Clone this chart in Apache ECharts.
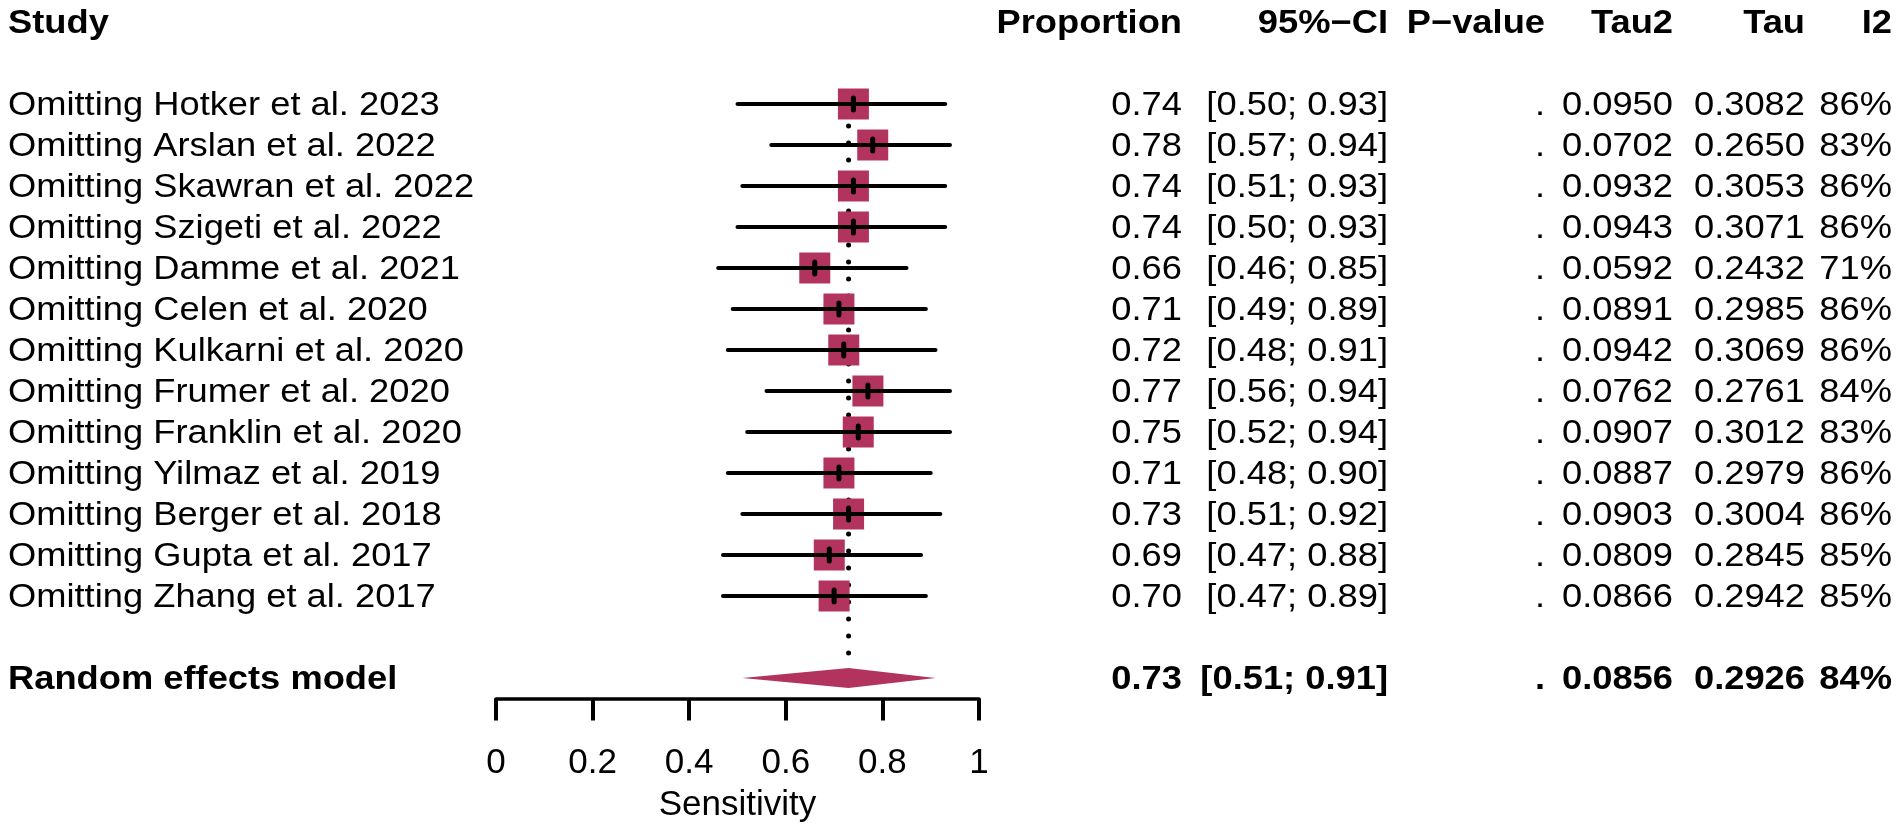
<!DOCTYPE html>
<html>
<head>
<meta charset="utf-8" />
<title>Leave-one-out sensitivity</title>
<script src="https://cdn.jsdelivr.net/npm/echarts@6/dist/echarts.min.js"></script>
<style>body{margin:0;background:#fff;}</style>
</head>
<body>
<div id="chartmain" style="width:1902px;height:834px;"></div>
<script type="text/javascript">

var studies = ['Omitting Hotker et al. 2023', 'Omitting Arslan et al. 2022', 'Omitting Skawran et al. 2022',
  'Omitting Szigeti et al. 2022', 'Omitting Damme et al. 2021', 'Omitting Celen et al. 2020',
  'Omitting Kulkarni et al. 2020', 'Omitting Frumer et al. 2020', 'Omitting Franklin et al. 2020',
  'Omitting Yilmaz et al. 2019', 'Omitting Berger et al. 2018', 'Omitting Gupta et al. 2017',
  'Omitting Zhang et al. 2017'];
var props = [0.74, 0.78, 0.74, 0.74, 0.66, 0.71, 0.72, 0.77, 0.75, 0.71, 0.73, 0.69, 0.70];
var lower = [0.50, 0.57, 0.51, 0.50, 0.46, 0.49, 0.48, 0.56, 0.52, 0.48, 0.51, 0.47, 0.47];
var upper = [0.93, 0.94, 0.93, 0.93, 0.85, 0.89, 0.91, 0.94, 0.94, 0.90, 0.92, 0.88, 0.89];
var tau2 = [0.0950, 0.0702, 0.0932, 0.0943, 0.0592, 0.0891, 0.0942, 0.0762, 0.0907, 0.0887, 0.0903, 0.0809, 0.0866];
var tau = [0.3082, 0.2650, 0.3053, 0.3071, 0.2432, 0.2985, 0.3069, 0.2761, 0.3012, 0.2979, 0.3004, 0.2845, 0.2942];
var i2 = [86, 83, 86, 86, 71, 86, 86, 84, 83, 86, 86, 85, 85];

var pooledName = 'Random effects model';
var pooledEst = 0.73, pooledLo = 0.51, pooledHi = 0.91;
var pooledTau2 = 0.0856, pooledTau = 0.2926, pooledI2 = 84;

var headers = ['Study', 'Proportion', '95%\u2212CI', 'P\u2212value', 'Tau2', 'Tau', 'I2'];
var tickLabels = ['0', '0.2', '0.4', '0.6', '0.8', '1'];

var MAROON = '#B3335F';
var FONT = '"Liberation Sans", Arial, Helvetica, sans-serif';
var HEADER_ROW = -2, POOLED_ROW = studies.length + 1;

// column anchors (pixels)
var cols = [
  {x: 8, align: 'left'}, {x: 1182, align: 'right'}, {x: 1388, align: 'right'},
  {x: 1545, align: 'right'}, {x: 1673, align: 'right'}, {x: 1805, align: 'right'}, {x: 1892, align: 'right'}
];

function ci(lo, hi) { return '[' + lo.toFixed(2) + '; ' + hi.toFixed(2) + ']'; }

// rows of the text table
var tableRows = [{row: HEADER_ROW, bold: true, cells: headers}];
studies.forEach(function (s, i) {
  tableRows.push({row: i, bold: false, cells: [s, props[i].toFixed(2), ci(lower[i], upper[i]), '.',
    tau2[i].toFixed(4), tau[i].toFixed(4), i2[i] + '%']});
});
tableRows.push({row: POOLED_ROW, bold: true, cells: [pooledName, pooledEst.toFixed(2), ci(pooledLo, pooledHi), '.',
  pooledTau2.toFixed(4), pooledTau.toFixed(4), pooledI2 + '%']});

function renderText(params, api) {
  var r = tableRows[params.dataIndex];
  var y = api.coord([0, r.row])[1] + 2;
  return {
    type: 'group',
    children: r.cells.map(function (t, c) {
      return {
        type: 'text', x: cols[c].x, y: y, scaleX: 1.1,
        style: {text: t, fill: '#000', fontSize: 33, fontFamily: FONT,
          fontWeight: r.bold ? 'bold' : 'normal', align: cols[c].align, verticalAlign: 'middle'}
      };
    })
  };
}

function renderStudy(params, api) {
  var row = api.value(3);
  var pE = api.coord([api.value(0), row]);
  var pL = api.coord([api.value(1), row]);
  var pH = api.coord([api.value(2), row]);
  var half = 15.5;
  return {
    type: 'group',
    children: [
      {type: 'rect', shape: {x: pE[0] - half, y: pE[1] - half, width: 2 * half, height: 2 * half}, style: {fill: MAROON}},
      {type: 'line', shape: {x1: pL[0], y1: pL[1], x2: pH[0], y2: pH[1]}, style: {stroke: '#000', lineWidth: 4, lineCap: 'round'}},
      {type: 'line', shape: {x1: pE[0], y1: pE[1] - 6, x2: pE[0], y2: pE[1] + 6}, style: {stroke: '#000', lineWidth: 5, lineCap: 'round'}}
    ]
  };
}

function renderPooled(params, api) {
  var row = api.value(3);
  var pE = api.coord([api.value(0), row]);
  var pL = api.coord([api.value(1), row]);
  var pH = api.coord([api.value(2), row]);
  return {
    type: 'polygon',
    shape: {points: [[pL[0], pL[1]], [pE[0], pE[1] - 10], [pH[0], pH[1]], [pE[0], pE[1] + 10]]},
    style: {fill: MAROON}
  };
}

function renderRef(params, api) {
  var top = api.coord([api.value(0), 0]);
  var bot = api.coord([api.value(0), POOLED_ROW]);
  return {
    type: 'line',
    shape: {x1: top[0], y1: top[1] - 12, x2: bot[0], y2: bot[1] - 10},
    style: {stroke: '#000', lineWidth: 5, lineCap: 'round', lineDash: [0.1, 16.9]}
  };
}

var myChart = echarts.init(document.getElementById('chartmain'));
var option = {
  backgroundColor: '#fff',
  animation: false,
  grid: {left: 496, right: 923, top: 22, bottom: 135.5},
  xAxis: {
    type: 'value', min: 0, max: 1, interval: 0.2,
    axisLine: {onZero: false, lineStyle: {color: '#000', width: 3.5}},
    axisTick: {length: 22, lineStyle: {color: '#000', width: 4}},
    axisLabel: {margin: 47, fontSize: 35, lineHeight: 35, color: '#000', fontFamily: FONT,
      formatter: function (v) { return tickLabels[Math.round(v / 0.2)]; }},
    splitLine: {show: false},
    name: 'Sensitivity', nameLocation: 'middle', nameGap: 89,
    nameTextStyle: {fontSize: 35, lineHeight: 35, color: '#000', fontFamily: FONT}
  },
  yAxis: {type: 'value', min: -2, max: POOLED_ROW + 0.5, inverse: true, show: false},
  series: [
    {type: 'custom', renderItem: renderRef, data: [[pooledEst]], silent: true},
    {type: 'custom', renderItem: renderStudy, encode: {x: [0, 1, 2], y: 3},
      data: studies.map(function (s, i) { return [props[i], lower[i], upper[i], i]; })},
    {type: 'custom', renderItem: renderPooled, encode: {x: [0, 1, 2], y: 3},
      data: [[pooledEst, pooledLo, pooledHi, POOLED_ROW]]},
    {type: 'custom', renderItem: renderText, data: tableRows.map(function (r) { return [0, r.row]; }), silent: true}
  ]
};
myChart.setOption(option);
</script>
</body>
</html>
